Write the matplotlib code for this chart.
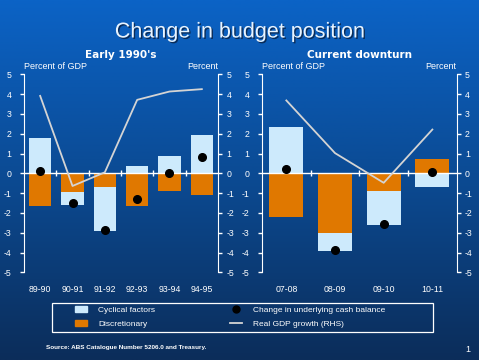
import numpy as np
import matplotlib
matplotlib.use("Agg")
import matplotlib.pyplot as plt
import matplotlib.patheffects as pe
from matplotlib.colors import LinearSegmentedColormap
from matplotlib.patches import Patch, Rectangle
from matplotlib.lines import Line2D

plt.rcParams['font.family'] = ['Liberation Sans', 'DejaVu Sans']
plt.rcParams['axes.unicode_minus'] = False

# Early 1990's
cats_90 = ['89-90', '90-91', '91-92', '92-93', '93-94', '94-95']
cyc_90 = [1.76, -0.65, -2.20, 0.35, 0.85, 1.91]
disc_90 = [-1.64, -0.94, -0.69, -1.64, -0.89, -1.09]
cash_90 = [0.12, -1.52, -2.86, -1.30, 0.0, 0.84]
gdp_90 = [3.91, -0.64, 0.05, 3.71, 4.13, 4.25]

# Current downturn
cats_now = ['07-08', '08-09', '09-10', '10-11']
cyc_now = [2.36, -0.91, -1.69, -0.69]
disc_now = [-2.19, -2.99, -0.90, 0.72]
cash_now = [0.23, -3.86, -2.56, 0.07]
gdp_now = [3.68, 1.02, -0.48, 2.21]

LIGHT = '#cdeafc'
ORANGE = '#e07800'
LINE = '#d4d4d4'
W = 479
H = 360

fig = plt.figure(figsize=(4.79, 3.6), dpi=100)

# background gradient
bg = fig.add_axes([0, 0, 1, 1], zorder=-10)
cmap = LinearSegmentedColormap.from_list('bg', ['#0c2d5a', '#0b4a92', '#0b63c6'])
grad = np.linspace(0, 1, 256).reshape(-1, 1)
bg.imshow(grad, aspect='auto', cmap=cmap, origin='lower', extent=[0, 1, 0, 1])
bg.set_axis_off()


def draw_panel(rect, cats, cyc, disc, cash, gdp, subtitle):
    ax = fig.add_axes(rect)
    ax.patch.set_alpha(0)
    x = np.arange(len(cats))
    cyc = np.array(cyc)
    disc = np.array(disc)
    cyc_bottom = np.where(np.sign(cyc) == np.sign(disc), disc, 0)
    ax.bar(x, disc, width=0.7, color=ORANGE, zorder=2)
    ax.bar(x, cyc, bottom=cyc_bottom, width=0.7, color=LIGHT, zorder=2)
    ax.axhline(0, color='white', lw=1, zorder=3)
    ax.plot(x[:-1] + 0.5, np.zeros(len(x) - 1), ls='none', marker='|',
            ms=5, mew=1, color='white', zorder=3)
    ax.plot(x, cash, 'o', color='black', ms=5.5, zorder=5)
    ax.set_xlim(-0.5, len(cats) - 0.5)
    ax.set_ylim(-5, 5)
    ax.set_yticks(range(-5, 6))
    ax.set_xticks(x)
    ax.set_xticklabels(cats)
    ax.tick_params(axis='x', length=0, pad=9, colors='white', labelsize=6.3)
    ax.tick_params(axis='y', length=3, width=1, pad=6, colors='white', labelsize=6.3)
    for s in ['top', 'bottom', 'right']:
        ax.spines[s].set_visible(False)
    ax.spines['left'].set_color('white')

    ax2 = ax.twinx()
    ax2.plot(x, gdp, color=LINE, lw=1.3, zorder=4)
    ax2.set_ylim(-5, 5)
    ax2.set_yticks(range(-5, 6))
    ax2.tick_params(axis='y', length=3, width=1, pad=3, colors='white', labelsize=6.3)
    for s in ['top', 'bottom', 'left']:
        ax2.spines[s].set_visible(False)
    ax2.spines['right'].set_color('white')

    ax.text(0, 1.015, 'Percent of GDP', transform=ax.transAxes, ha='left',
            va='bottom', color='white', fontsize=6.5)
    ax.text(1, 1.015, 'Percent', transform=ax.transAxes, ha='right',
            va='bottom', color='white', fontsize=6.5)
    ax.text(0.5, 1.095, subtitle, transform=ax.transAxes, ha='center',
            va='center', color='white', fontsize=7.5, fontweight='bold',
            family='DejaVu Sans')
    return ax


bottom = 1 - 272.3 / H
height = 198 / H
draw_panel([24 / W, bottom, 194 / W, height], cats_90, cyc_90, disc_90,
           cash_90, gdp_90, "Early 1990's")
draw_panel([262 / W, bottom, 194.7 / W, height], cats_now, cyc_now, disc_now,
           cash_now, gdp_now, 'Current downturn')

fig.text(0.5, 1 - 32 / H, 'Change in budget position', ha='center', va='center',
         color='#e8f4ff', fontsize=15.5,
         path_effects=[pe.SimplePatchShadow(offset=(1, -1), shadow_rgbFace='#0a2040', alpha=0.8),
                       pe.Normal()])

# legend box
fig.patches.append(Rectangle((52 / W, 1 - 332.3 / H), 381 / W, 29.6 / H,
                             transform=fig.transFigure, fill=False,
                             edgecolor='white', lw=0.9))

handles = [Patch(color=LIGHT), Patch(color=ORANGE),
           Line2D([], [], ls='none', marker='o', color='black', ms=5),
           Line2D([], [], color=LINE, lw=1.3)]
labels = ['Cyclical factors', 'Discretionary', 'Change in underlying cash balance',
          'Real GDP growth (RHS)']
leg = fig.legend(handles, labels, ncol=2, loc='center left',
                 bbox_to_anchor=(75 / W, 1 - 317 / H), fontsize=6,
                 frameon=False, handlelength=1.45, handleheight=0.75,
                 columnspacing=9, borderpad=0, labelspacing=0.7, handletextpad=1.3,
                 borderaxespad=0)
for t in leg.get_texts():
    t.set_color('white')

fig.text(46 / W, 1 - 347 / H, 'Source: ABS Catalogue Number 5206.0 and Treasury.',
         ha='left', va='center', color='white', fontsize=4.6, fontweight='bold')
fig.text(468 / W, 1 - 349 / H, '1', ha='center', va='center', color='white',
         fontsize=6.5)

fig.savefig('out.png', dpi=100)
